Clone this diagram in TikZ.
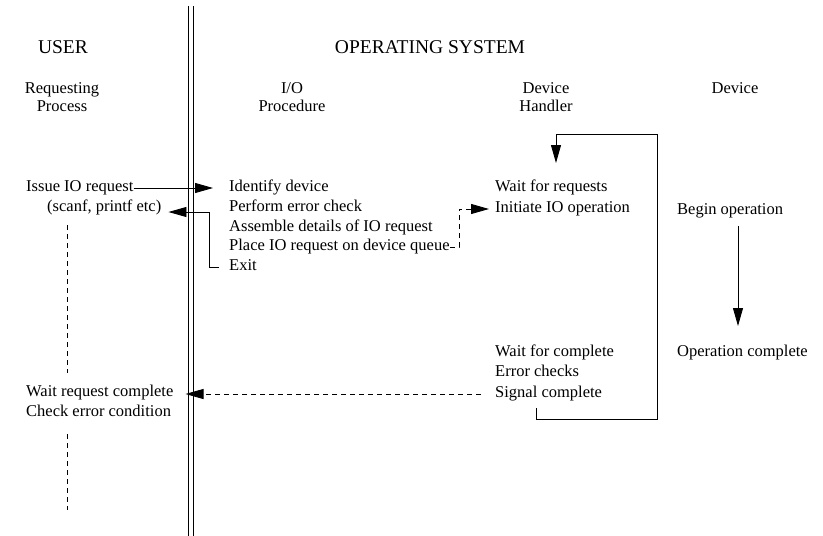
\documentclass[tikz,border=0pt]{standalone}
\usepackage{fontspec}
\setmainfont{Liberation Serif}
\usetikzlibrary{arrows.meta}
\begin{document}
\begin{tikzpicture}[x=1pt,y=-1pt,
  txt/.style={anchor=west,inner sep=0pt,text height=11pt,text depth=4pt,font=\fontsize{16.5}{19}\selectfont},
  head/.style={inner sep=0pt,font=\fontsize{19.5}{21}\selectfont},
  colhead/.style={inner sep=0pt,align=center,font=\fontsize{16.5}{18.5}\selectfont},
  ln/.style={line width=0.8pt},
  arr/.style={ln,-{Triangle[length=18pt,width=10pt]}},
  dsh/.style={dash pattern=on 5pt off 4pt}]
\useasboundingbox (0,0) rectangle (823,536);

% boundary between user and operating system
\draw[ln] (188,6) -- (188,536);
\draw[ln] (193,6) -- (193,536);

% headings
\node[head] (user) at (63,47) {USER};
\node[head] (os) at (430,47) {OPERATING SYSTEM};
\node[colhead] (hreq) at (62,97) {Requesting\\Process};
\node[colhead] (hio) at (292,97) {I/O\\Procedure};
\node[colhead] (hdh) at (546,97) {Device\\Handler};
\node[colhead] (hdev) at (735,88) {Device};

% requesting process
\node[txt] (issue) at (26,188) {Issue IO request};
\node[txt] (scanf) at (47,208) {(scanf, printf etc)};
\node[txt] (waitrc) at (26,393) {Wait request complete};
\node[txt] (checkerr) at (26,413) {Check error condition};

% I/O procedure
\node[txt] (identify) at (229,188) {Identify device};
\node[txt] (perform) at (229,208) {Perform error check};
\node[txt] (assemble) at (229,228) {Assemble details of IO request};
\node[txt] (place) at (229,247) {Place IO request on device queue};
\node[txt] (exit) at (229,267) {Exit};

% device handler
\node[txt] (waitreq) at (495,188) {Wait for requests};
\node[txt] (initiate) at (495,209) {Initiate IO operation};
\node[txt] (waitcomp) at (495,353) {Wait for complete};
\node[txt] (errchk) at (495,373) {Error checks};
\node[txt] (signal) at (495,394) {Signal complete};

% device
\node[txt] (begin) at (677,211) {Begin operation};
\node[txt] (opcomp) at (677,353) {Operation complete};

% user process lifeline
\coordinate (ul1) at (67,225);
\coordinate (ul2) at (67,373);
\coordinate (ul3) at (67,434);
\coordinate (ul4) at (67,510);
\draw[ln,dsh] (ul1) -- (ul2);
\draw[ln,dsh] (ul3) -- (ul4);

% call into the I/O procedure and return
\draw[arr,shorten >=16pt] (issue.east) -- (identify.west);
\coordinate (retx) at (209,212);
\draw[arr,shorten >=7pt] ([xshift=-10pt]exit.west) -| (retx) -- (scanf.east |- retx);

% request queued for the device handler
\coordinate (qx) at (459,247);
\draw[arr,dsh,shorten >=6pt] (place.east) -- (qx) |- (initiate.west);

% handler loop back to waiting for requests
\coordinate (lp0) at (536,408);
\coordinate (lp1) at (536,419);
\coordinate (lp2) at (657,419);
\coordinate (lp3) at (657,134);
\coordinate (lp4) at (556,134);
\coordinate (lp5) at (556,163);
\draw[arr] (lp0) -- (lp1) -- (lp2) -- (lp3) -- (lp4) -- (lp5);

% device operation
\coordinate (dv1) at (738,226);
\coordinate (dv2) at (738,326);
\draw[arr] (dv1) -- (dv2);

% completion signalled back to the user
\draw[arr,dsh,shorten <=14pt,shorten >=12pt] (signal.west) -- (waitrc.east |- signal.west);
\end{tikzpicture}
\end{document}
